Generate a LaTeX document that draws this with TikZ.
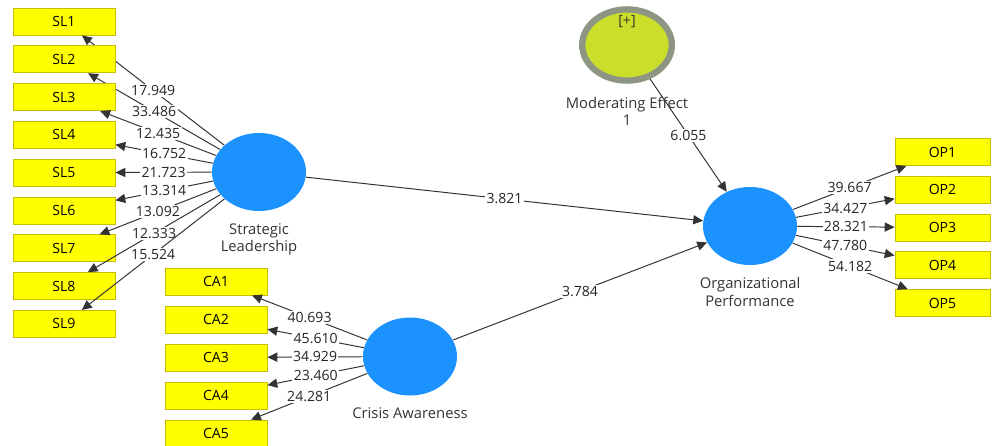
\documentclass[tikz,border=0pt]{standalone}
\usepackage{fontspec}
\setmainfont{Open Sans}
\usetikzlibrary{shapes.geometric,arrows.meta,positioning}

\definecolor{boxfill}{RGB}{255,255,0}
\definecolor{boxline}{RGB}{200,190,0}
\definecolor{lvblue}{RGB}{28,146,255}
\definecolor{modfill}{RGB}{202,222,42}
\definecolor{modring}{RGB}{140,150,130}

\begin{document}
\begin{tikzpicture}[
    x=0.025cm, y=-0.025cm,
    font=\fontsize{10}{12}\selectfont,
    %% Indicator (yellow box)
    ind/.style={
        rectangle, draw=boxline, fill=boxfill, line width=0.6pt,
        minimum width=2.55cm, minimum height=0.675cm, inner sep=0pt
    },
    %% Latent variable (blue ellipse)
    lv/.style={
        ellipse, fill=lvblue,
        minimum width=2.35cm, minimum height=1.95cm, inner sep=0pt
    },
    %% Moderating latent variable
    modlv/.style={
        ellipse, draw=modring, fill=modfill, line width=4.5pt,
        minimum width=2.24cm, minimum height=1.78cm, inner sep=0pt
    },
    %% Path / loading arrow
    load/.style={draw=black!80, line width=0.7pt,
        -{Triangle[length=7pt,width=6.5pt]}},
    %% t-value on an arrow
    num/.style={fill=white, inner sep=1pt, text=black!85},
    %% Construct name
    cname/.style={align=center, inner sep=0pt, text=black!80,
        font=\fontsize{10.5}{12.3}\selectfont}
]
\useasboundingbox (0,0) rectangle (992,446);

%% ==================================================================
%% Latent variables
%% ==================================================================
\node[lv] (SL) at (259,172) {};
\node[lv] (CA) at (410,356.5) {};
\node[lv] (OP) at (750,226) {};
\node[modlv] (ME) at (627,45) {};
\node[font=\fontsize{10}{12}\selectfont, text=black!80] (plus) at (627,22) {[+]};

\node[cname, below=0.3cm of SL] (SLname) {Strategic\\Leadership};
\node[cname, below=0.3cm of CA] (CAname) {Crisis Awareness};
\node[cname, below=0.3cm of OP] (OPname) {Organizational\\Performance};
\node[cname, below=0.33cm of ME] (MEname) {Moderating Effect\\1};

%% ==================================================================
%% Strategic Leadership -> SL1..SL9
%% ==================================================================
\foreach \i/\t in {1/17.949, 2/33.486, 3/12.435, 4/16.752, 5/21.723,
                   6/13.314, 7/13.092, 8/12.333, 9/15.524} {
    \node[ind] (sl\i) at (64,{21.5+37.8*(\i-1)}) {SL\i};
    \draw[load] (SL) -- (sl\i) node[midway, num] {\t};
}

%% ==================================================================
%% Crisis Awareness -> CA1..CA5
%% ==================================================================
\foreach \i/\t in {1/40.693, 2/45.610, 3/34.929, 4/23.460, 5/24.281} {
    \node[ind] (ca\i) at (216,{281.5+38*(\i-1)}) {CA\i};
    \draw[load] (CA) -- (ca\i) node[midway, num] {\t};
}

%% ==================================================================
%% Organizational Performance -> OP1..OP5
%% ==================================================================
\foreach \i/\t in {1/39.667, 2/34.427, 3/28.321, 4/47.780, 5/54.182} {
    \node[ind, minimum width=2.375cm] (op\i) at (942.5,{152+37.75*(\i-1)}) {OP\i};
    \draw[load] (OP) -- (op\i) node[midway, num] {\t};
}

%% ==================================================================
%% Structural paths
%% ==================================================================
\draw[load] (SL) -- (OP) node[midway, num] {3.821};
\draw[load] (CA) -- (OP) node[midway, num] {3.784};
\draw[load] (ME) -- (OP) node[midway, num] {6.055};

\end{tikzpicture}
\end{document}
